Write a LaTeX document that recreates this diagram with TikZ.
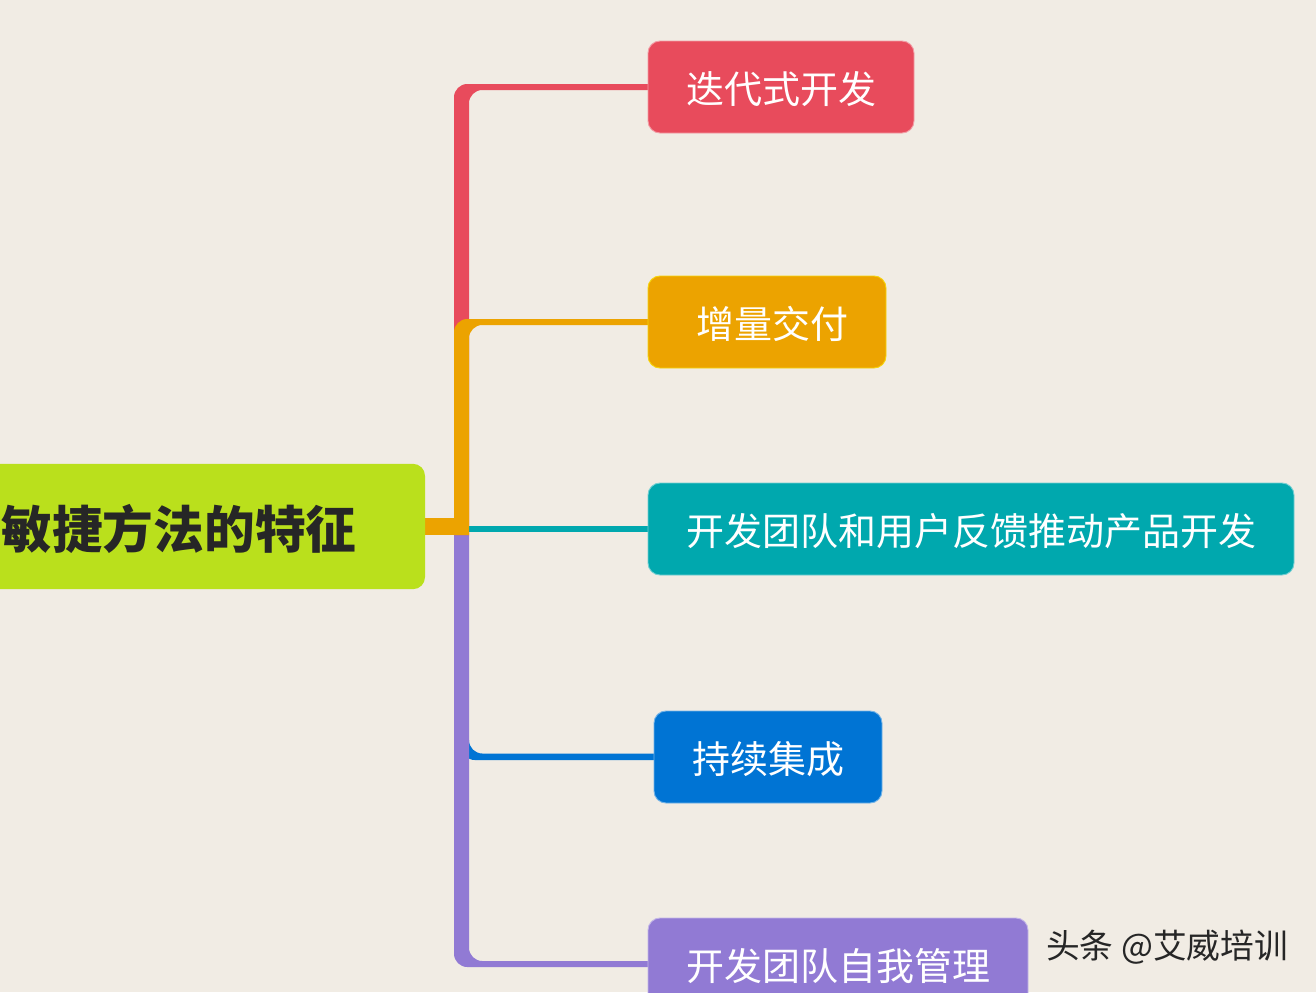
\documentclass[tikz,border=0pt]{standalone}
\usepackage{fontspec}
\setmainfont{Noto Sans CJK SC}
\usetikzlibrary{backgrounds,calc}
\definecolor{paper}{RGB}{241,236,228}
\definecolor{rootgreen}{RGB}{186,224,28}
\definecolor{iterred}{RGB}{232,75,92}
\definecolor{incrorange}{RGB}{236,163,0}
\definecolor{feedteal}{RGB}{0,168,174}
\definecolor{integblue}{RGB}{0,116,212}
\definecolor{selfpurple}{RGB}{145,122,212}
\tikzset{
    box/.style={rounded corners=9pt, minimum height=69pt, text=white,
        font=\fontsize{28.5}{30}\selectfont, inner sep=0pt, line width=0.7pt,
        text height=24pt, text depth=0pt},
    trunk/.style={rounded corners=10pt}
}
% #1 colour, #2 box, #3 outer edge and #4 inner edge of the thin line
\newcommand{\branchto}[4]{
    \fill[#1, trunk] ($(hub)+(-7.5,0)$) |- ($(#2.west)+(14,#3)$)
        -- ($(#2.west)+(14,#4)$) -| ($(hub)+(7.5,0)$);
}
\begin{document}
\begin{tikzpicture}[x=0.75pt, y=-0.75pt]
    \useasboundingbox (0,0) rectangle (1316,992);
    \clip (0,0) rectangle (1316,992);

    \node[box, fill=rootgreen, minimum width=369pt, minimum height=94pt,
        text=black!85, font=\fontsize{38}{40}\selectfont\bfseries, text height=33pt]
        (root) at (179,526.5) {敏捷方法的特征};
    \node[box, fill=iterred, draw=iterred!55!white, minimum width=199.5pt]
        (iter) at (781,87) {迭代式开发};
    \node[box, fill=incrorange, draw=yellow!60!incrorange, minimum width=178.5pt]
        (incr) at (767,322) {\hspace*{7.5pt}增量交付};
    \node[box, fill=feedteal, draw=feedteal!55!white, minimum width=484.5pt]
        (feed) at (971,529) {开发团队和用户反馈推动产品开发};
    \node[box, fill=integblue, draw=integblue!55!white, minimum width=171pt]
        (integ) at (768,757) {持续集成};
    \node[box, fill=selfpurple, draw=selfpurple!55!white, minimum width=285pt]
        (self) at (838,964) {开发团队自我管理};

    \coordinate (hub) at (461.5,535);

    \begin{scope}[on background layer]
        \fill[paper] (0,0) rectangle (1316,992);
        \fill[integblue, trunk] ($(hub)+(7.5,205)$) |- ($(integ.west)+(14,-3.5)$)
            -- ($(integ.west)+(14,3)$) -- ($(hub)+(0,225)$) -- ($(hub)+(0,205)$);
        \branchto{selfpurple}{self}{3}{-3}
        \branchto{iterred}{iter}{-3}{3}
        \draw[feedteal, line width=4.5pt] (hub |- feed.west) -- (feed.west);
        \branchto{incrorange}{incr}{-3}{3}
        \draw[incrorange, line width=12.75pt] (root.east) -- (hub |- root.east);
    \end{scope}

    \node[text=black!85, font=\fontsize{25.3}{27}\selectfont] (mark) at (1167,947) {头条 @艾威培训};
\end{tikzpicture}
\end{document}
